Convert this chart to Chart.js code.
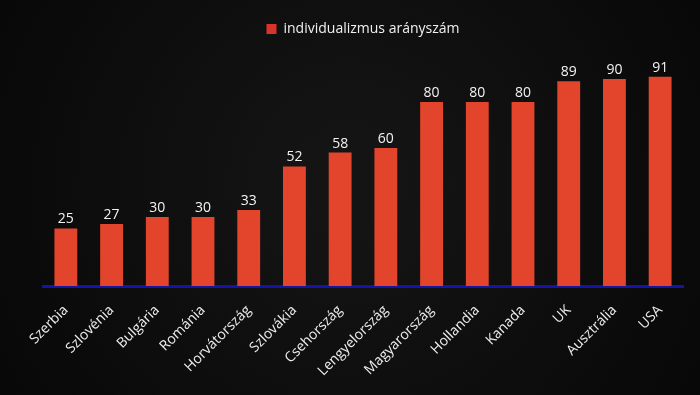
<!DOCTYPE html>
<html><head><meta charset="utf-8">
<script src="https://cdn.jsdelivr.net/npm/chart.js@4"></script>
<style>html,body{margin:0;padding:0;background:#0e0e0e;}#w{width:700px;height:395px;}</style>
</head><body><div id="w"><canvas id="c"></canvas></div>
<script>
const categories = ["Szerbia","Szlovénia","Bulgária","Románia","Horvátország","Szlovákia","Csehország","Lengyelország","Magyarország","Hollandia","Kanada","UK","Ausztrália","USA"];
const values = [25,27,30,30,33,52,58,60,80,80,80,89,90,91];
const seriesName = "individualizmus arányszám";

const valueLabels = {
  id:'valueLabels',
  afterDatasetsDraw(chart){
    const ctx=chart.ctx;
    const meta=chart.getDatasetMeta(0);
    ctx.save();
    ctx.fillStyle='#f2f2f2';
    ctx.font='14px "Open Sans", sans-serif';
    ctx.textAlign='center';
    ctx.textBaseline='bottom';
    meta.data.forEach((el,i)=>{ ctx.fillText(String(values[i]), el.x, el.y-2); });
    ctx.restore();
  }
};
const bg = {
  id:'bg',
  beforeDraw(chart){
    const ctx=chart.ctx;
    ctx.save();
    const g=ctx.createRadialGradient(350,180,50,350,200,480);
    g.addColorStop(0,'#141414');g.addColorStop(1,'#050505');
    ctx.fillStyle=g;ctx.fillRect(0,0,chart.width,chart.height);
    ctx.restore();
  }
};
const legendSpace = {
  id:'legendSpace',
  beforeInit(chart){
    const lg=chart.legend;
    const orig=lg.fit.bind(lg);
    lg.fit=function(){orig();this.height+=10;};
  }
};

new Chart(document.getElementById('c'),{
  type:'bar',
  data:{labels:categories,datasets:[{label:seriesName,data:values,backgroundColor:'#e2452c',borderWidth:0,barPercentage:0.5,categoryPercentage:1}]},
  options:{
    responsive:true,maintainAspectRatio:false,animation:false,
    layout:{padding:{left:43,right:17,top:8,bottom:0}},
    plugins:{
      legend:{display:true,position:'top',labels:{color:'#f0f0f0',font:{size:14,family:'"Open Sans", sans-serif'},boxWidth:10,boxHeight:10,padding:14,
        generateLabels(chart){return [{text:seriesName,fillStyle:'#d9342b',strokeStyle:'#d9342b',lineWidth:0,fontColor:'#f0f0f0'}];}}},
      tooltip:{enabled:false}
    },
    scales:{
      x:{grid:{display:false,drawTicks:false},border:{display:true,color:'#1414a8',width:3},
        ticks:{color:'#eeeeee',font:{size:14,family:'"Open Sans", sans-serif'},minRotation:45,maxRotation:45,padding:16},
        afterFit(s){s.height=109;}},
      y:{display:false,min:0,max:100}
    }
  },
  plugins:[legendSpace,bg,valueLabels]
});
</script></body></html>
